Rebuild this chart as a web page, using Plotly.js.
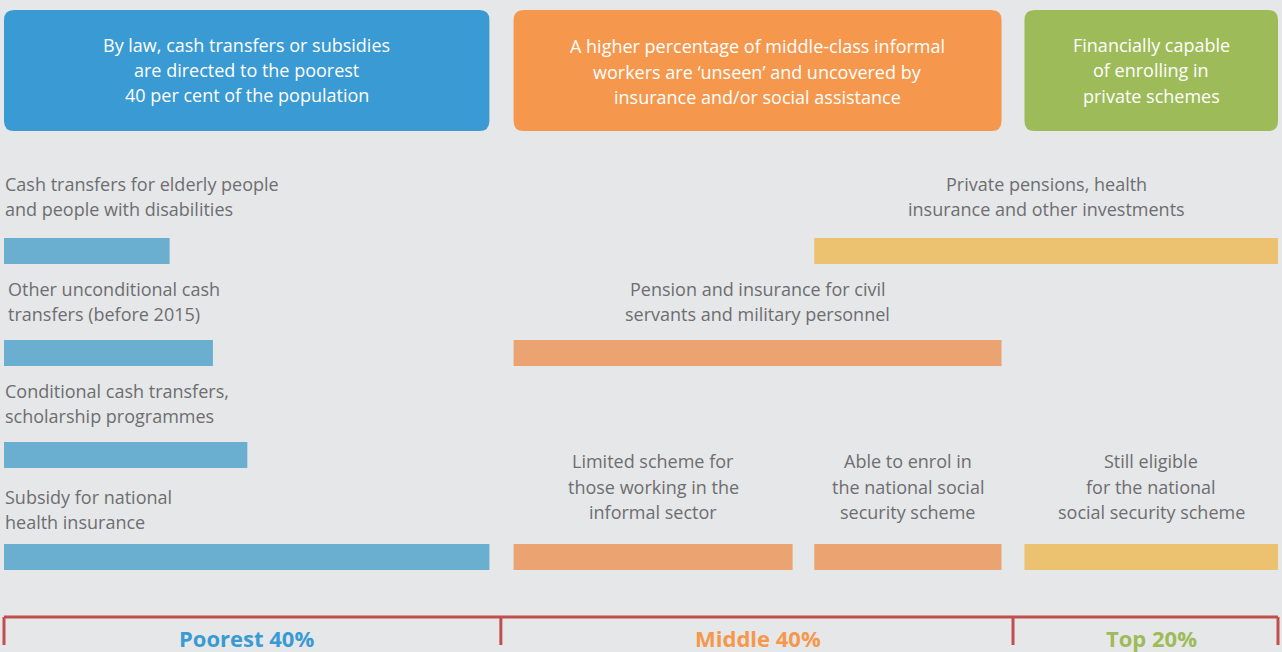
<!DOCTYPE html>
<html>
<head>
<meta charset="utf-8">
<script src="https://cdn.plot.ly/plotly-3.0.1.min.js"></script>
<style>html,body{margin:0;padding:0;background:#e6e7e8;}#chart{width:1282px;height:652px;}</style>
</head>
<body>
<div id="chart"></div>
<script>
// ---- DATA ----
const groups = ['Poorest 40%', 'Middle 40%', 'Top 20%'];
const groupBounds = [0, 39.0, 79.2, 100];          // bracket divisions (share of population, as drawn)
const groupBoxStart = [0, 40.0, 80.1];
const groupBoxEnd = [38.1, 78.3, 100];
const groupBoxText = [
  ['By law, cash transfers or subsidies', 'are directed to the poorest', '40 per cent of the population'],
  ['A higher percentage of middle-class informal', 'workers are \u2018unseen\u2019 and uncovered by', 'insurance and/or social assistance'],
  ['Financially capable', 'of enrolling in', 'private schemes']
];

const barLabels = [
  ['Cash transfers for elderly people', 'and people with disabilities'],
  ['Other unconditional cash', 'transfers (before 2015)'],
  ['Conditional cash transfers,', 'scholarship programmes'],
  ['Subsidy for national', 'health insurance'],
  ['Pension and insurance for civil', 'servants and military personnel'],
  ['Limited scheme for', 'those working in the', 'informal sector'],
  ['Able to enrol in', 'the national social', 'security scheme'],
  ['Private pensions, health', 'insurance and other investments'],
  ['Still eligible', 'for the national', 'social security scheme']
];
const barStart = [0, 0, 0, 0, 40.0, 40.0, 63.6, 63.6, 80.1];
const barEnd   = [13.0, 16.4, 19.1, 38.1, 78.3, 61.9, 78.3, 100, 100];
const barRow   = [0, 1, 2, 3, 1, 3, 3, 0, 3];
const barGroup = [0, 0, 0, 0, 1, 1, 1, 2, 2];

// ---- STYLE ----
const bg = '#e6e7e8';
const boxColors = ['#3a9ad3', '#f5984d', '#9dbb59'];
const barColors = ['#6aafcf', '#eba471', '#ecc270'];
const labelColor = '#6d6e71';
const bracketColor = '#c0504d';
const FONT = '"Open Sans", "Noto Sans", sans-serif';

// pixel helpers for layout placement (layout only)
const PXX = 12.74, X0 = 4;     // px per unit, px offset
const PXY = 102, Y0 = 251;     // px per row, px of row 0 centre
const xr = [(0 - X0) / PXX, (1282 - X0) / PXX];
const yr = [(652 - Y0) / PXY, (0 - Y0) / PXY];
const py = p => (p - Y0) / PXY;

// ---- BARS ----
const traces = [0, 1, 2].map(g => {
  const idx = barStart.map((_, i) => i).filter(i => barGroup[i] === g);
  return {
    type: 'bar', orientation: 'h',
    base: idx.map(i => barStart[i]),
    x: idx.map(i => barEnd[i] - barStart[i]),
    y: idx.map(i => barRow[i]),
    width: 26 / PXY,
    marker: {color: barColors[g], line: {width: 0}},
    hoverinfo: 'skip', showlegend: false
  };
});

// ---- SHAPES ----
const shapes = [];
const rx = 10 / PXX, ry = 10 / PXY;
const by0 = py(10), by1 = py(131);
for (let g = 0; g < 3; g++) {
  const x0 = groupBoxStart[g], x1 = groupBoxEnd[g];
  shapes.push({
    type: 'path', xref: 'x', yref: 'y', layer: 'below',
    path: `M ${x0 + rx},${by0} L ${x1 - rx},${by0} Q ${x1},${by0} ${x1},${by0 + ry} L ${x1},${by1 - ry} Q ${x1},${by1} ${x1 - rx},${by1} L ${x0 + rx},${by1} Q ${x0},${by1} ${x0},${by1 - ry} L ${x0},${by0 + ry} Q ${x0},${by0} ${x0 + rx},${by0} Z`,
    fillcolor: boxColors[g], line: {width: 0}
  });
}
// bracket
const brY = py(617), brY2 = py(645);
shapes.push({type: 'line', xref: 'x', yref: 'y', x0: groupBounds[0], x1: groupBounds[3], y0: brY, y1: brY,
  line: {color: bracketColor, width: 3}});
groupBounds.forEach(b => shapes.push({type: 'line', xref: 'x', yref: 'y', x0: b, x1: b, y0: brY, y1: brY2,
  line: {color: bracketColor, width: 3}}));

// ---- ANNOTATIONS ----
const annotations = [];
// box texts
const boxLineY = [[45, 70, 95], [46, 72, 97], [45, 70, 96]];
for (let g = 0; g < 3; g++) {
  groupBoxText[g].forEach((t, k) => annotations.push({
    xref: 'x', yref: 'y', x: (groupBoxStart[g] + groupBoxEnd[g]) / 2, y: py(boxLineY[g][k]),
    text: t, showarrow: false, xanchor: 'center', yanchor: 'middle',
    font: {family: FONT, size: 18, color: '#ffffff'}
  }));
}
// bar labels: last-line offset above bar centre (px)
const lastLineGap = [42, 39, 39, 35, 39, 45, 45, 42, 45];
const leftAlignedX = [3, 6, 3, 3];
barLabels.forEach((lines, i) => {
  const n = lines.length;
  lines.forEach((t, k) => {
    const dy = lastLineGap[i] + (n - 1 - k) * 25.5;
    const left = barGroup[i] === 0;
    annotations.push({
      xref: 'x', yref: 'y',
      x: left ? (leftAlignedX[i] - X0) / PXX : (barStart[i] + barEnd[i]) / 2,
      y: barRow[i], yshift: dy,
      text: t, showarrow: false, xanchor: left ? 'left' : 'center', yanchor: 'middle',
      font: {family: FONT, size: 18, color: labelColor}
    });
  });
});
// bracket labels
groups.forEach((g, i) => annotations.push({
  xref: 'x', yref: 'y', x: (groupBoxStart[i] + groupBoxEnd[i]) / 2, y: py(638),
  text: '<b>' + g + '</b>', showarrow: false, xanchor: 'center', yanchor: 'middle',
  font: {family: FONT, size: 22, color: boxColors[i]}
}));

const layout = {
  width: 1282, height: 652,
  margin: {l: 0, r: 0, t: 0, b: 0, pad: 0},
  paper_bgcolor: bg, plot_bgcolor: bg,
  barmode: 'overlay',
  xaxis: {range: xr, visible: false, fixedrange: true},
  yaxis: {range: yr, visible: false, fixedrange: true},
  shapes: shapes, annotations: annotations,
  showlegend: false
};
Plotly.newPlot('chart', traces, layout, {displayModeBar: false, staticPlot: true});
</script>
</body>
</html>
